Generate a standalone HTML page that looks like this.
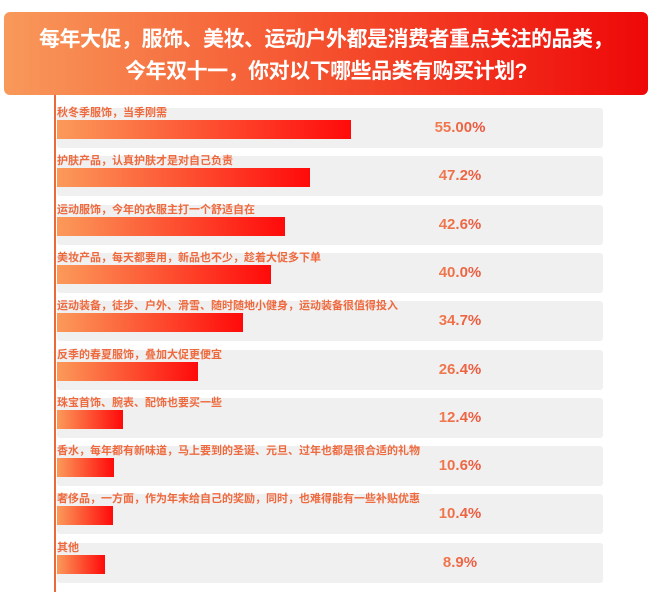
<!DOCTYPE html>
<html><head><meta charset="utf-8"><style>
body{margin:0;width:650px;height:592px;background:#fff;position:relative;overflow:hidden;font-family:"Liberation Sans","Noto Sans CJK SC",sans-serif}
#hdr{position:absolute;left:4px;top:12px;width:644px;height:83px;border-radius:6px;background:linear-gradient(90deg,#f8995a,#f5502e 50%,#ee0808);color:#fff;font-weight:bold;font-size:21px;text-align:center;line-height:32px;padding-top:12px;box-sizing:border-box;white-space:nowrap;letter-spacing:-0.5px}
#axis{position:absolute;left:54px;top:95px;width:2px;height:497px;background:#ea6a3a}
.row{position:absolute;left:57px;width:546px;height:40px;background:#f0f0f0;border-radius:3px}
.lab{position:absolute;left:57px;font-size:11px;font-weight:bold;color:#ee6a3e;white-space:nowrap;line-height:13px}
.bar{position:absolute;left:57px;height:19px;background:linear-gradient(90deg,#fb9a5a,#ff0a0a)}
.val{position:absolute;left:400px;width:120px;text-align:center;font-size:15px;font-weight:bold;background:linear-gradient(90deg,#f3a060,#e8302a);-webkit-background-clip:text;background-clip:text;color:transparent}
</style></head><body>
<div id="hdr">每年大促，服饰、美妆、运动户外都是消费者重点关注的品类，<br>今年双十一，你对以下哪些品类有购买计划?</div>
<div id="axis"></div>
<script>
const categories=["秋冬季服饰，当季刚需","护肤产品，认真护肤才是对自己负责","运动服饰，今年的衣服主打一个舒适自在","美妆产品，每天都要用，新品也不少，趁着大促多下单","运动装备，徒步、户外、滑雪、随时随地小健身，运动装备很值得投入","反季的春夏服饰，叠加大促更便宜","珠宝首饰、腕表、配饰也要买一些","香水，每年都有新味道，马上要到的圣诞、元旦、过年也都是很合适的礼物","奢侈品，一方面，作为年末给自己的奖励，同时，也难得能有一些补贴优惠","其他"];
const values=[55.0,47.2,42.6,40.0,34.7,26.4,12.4,10.6,10.4,8.9];
const valueLabels=["55.00%","47.2%","42.6%","40.0%","34.7%","26.4%","12.4%","10.6%","10.4%","8.9%"];
const x=v=>v*5.35;
const y=i=>108+i*48.3;
values.forEach((v,i)=>{
  const t=y(i);
  const r=document.createElement('div');r.className='row';r.style.top=t+'px';
  
  
  document.body.appendChild(r);
  const l=document.createElement('div');l.className='lab';l.style.top=(t-1)+'px';l.textContent=categories[i];
  
  
  document.body.appendChild(l);
  const b=document.createElement('div');b.className='bar';b.style.top=(t+12)+'px';b.style.width=x(v)+'px';
  
  
  document.body.appendChild(b);
  const vl=document.createElement('div');vl.className='val';vl.style.top=(t+11)+'px';vl.textContent=valueLabels[i];
  
  
  document.body.appendChild(vl);
});
</script>
</body></html>
